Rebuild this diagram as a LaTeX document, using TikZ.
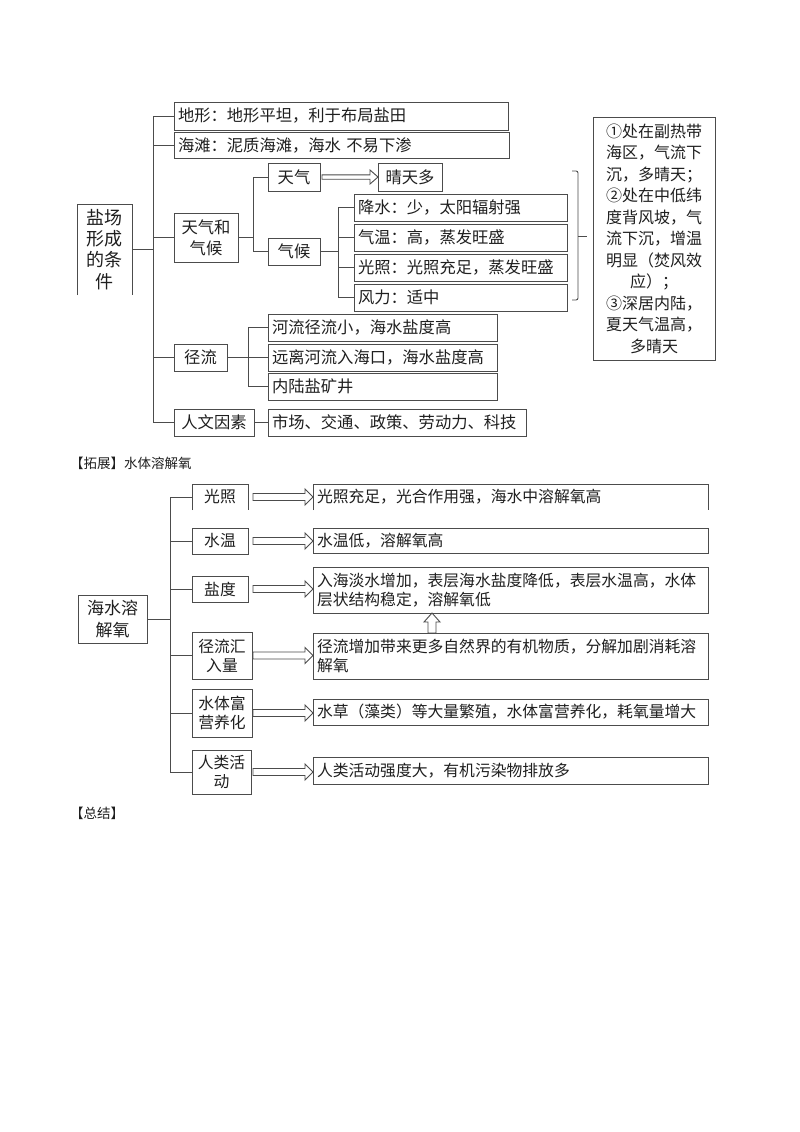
\documentclass[tikz,border=0pt]{standalone}
\usepackage{fontspec}
\setmainfont{Noto Sans CJK SC}
\usetikzlibrary{calc}
\tikzset{
  ln/.style={draw=black!70, line width=0.9pt},
  bx/.style={ln, anchor=north west, inner ysep=0pt, inner xsep=4pt, outer sep=0pt, text=black!88, font=\fontsize{16.3}{21}\selectfont},
  lb/.style={bx, align=left},
  cb/.style={bx, align=center},
  nob/.style={draw=none},
  bt/.style={font=\fontsize{15.8}{19}\selectfont},
  note/.style={anchor=west, inner sep=0pt, text=black!88, font=\fontsize{13.5}{16}\selectfont},
}
\newcommand\bxn[7][]{%
  \pgfmathsetmacro\bxw{#5-#3}\pgfmathsetmacro\bxh{#6-#4}\pgfmathsetmacro\bxt{#5-#3-8}%
  \node[#1, minimum width=\bxw pt, minimum height=\bxh pt, text width=\bxt pt] (#2) at (#3,#4) {#7};}
\newcommand\openb[1]{\draw[ln] (#1.south west) -- (#1.north west) -- (#1.north east) -- (#1.south east);}
\newcommand\harr[4]{%
  \draw[ln, line join=miter] let \p1=(#1), \p2=(#2) in
   (\x1,\y1+#3pt) -- (\x2-8pt,\y1+#3pt) -- (\x2-8pt,\y1+#4pt) -- (\x2,\y1) -- (\x2-8pt,\y1-#4pt) -- (\x2-8pt,\y1-#3pt) -- (\x1,\y1-#3pt) -- cycle;}
\newcommand\varr[4]{%
  \draw[ln, line join=miter] let \p1=(#1), \p2=(#2) in
   (\x1-#3pt,\y1) -- (\x1-#3pt,\y2-9pt) -- (\x1-#4pt,\y2-9pt) -- (\x1,\y2) -- (\x1+#4pt,\y2-9pt) -- (\x1+#3pt,\y2-9pt) -- (\x1+#3pt,\y1) -- cycle;}
\begin{document}
\begin{tikzpicture}[x=1pt,y=-1pt]
\useasboundingbox (0,0) rectangle (800,1132);
\fill[white] (0,0) rectangle (800,1132);
% ---------- top section ----------
\bxn[cb, nob, font=\fontsize{18}{21.3}\selectfont]{main}{77}{204}{132}{295}{盐场\\形成\\的条\\件}
\openb{main}
\bxn[lb]{dixing}{174}{102}{508}{130}{地形：地形平坦，利于布局盐田}
\bxn[lb]{haitan}{174}{132}{509}{158}{海滩：泥质海滩，海水 不易下渗}
\bxn[cb]{tqhq}{174}{213}{238}{262}{天气和\\气候}
\bxn[cb]{jingliu}{174}{344}{227}{371}{径流}
\bxn[cb]{renwen}{174}{409}{254}{436}{人文因素}
\bxn[cb]{tianqi}{268}{163}{320}{191}{天气}
\bxn[cb]{qihou}{268}{238}{320}{265}{气候}
\bxn[cb]{qingtian}{378}{163}{442}{191}{晴天多}
\bxn[lb]{jsh}{354}{194}{567}{221}{降水：少，太阳辐射强}
\bxn[lb]{qw}{354}{224}{567}{251}{气温：高，蒸发旺盛}
\bxn[lb]{gzh}{354}{254}{567}{281}{光照：光照充足，蒸发旺盛}
\bxn[lb]{fl}{354}{284}{567}{311}{风力：适中}
\bxn[lb]{hl1}{268}{314}{497}{341}{河流径流小，海水盐度高}
\bxn[lb]{hl2}{268}{344}{497}{371}{远离河流入海口，海水盐度高}
\bxn[lb]{hl3}{268}{373}{497}{400}{内陆盐矿井}
\bxn[lb]{rw}{268}{409}{526}{436}{市场、交通、政策、劳动力、科技}
\bxn[cb, font=\fontsize{16}{21.5}\selectfont]{rbox}{593}{117}{715}{360}{①处在副热带\\海区，气流下\\沉，多晴天；\\②处在中低纬\\度背风坡，气\\流下沉，增温\\明显（焚风效\\应）；\\③深居内陆，\\夏天气温高，\\多晴天}
% connectors
\coordinate (tr1) at (153,0);
\coordinate (tr2) at (253,0);
\coordinate (tr3) at (338,0);
\coordinate (tr4) at (248,0);
\draw[ln] (main.east) -- (main.east -| tr1);
\draw[ln] (dixing.west) -- (dixing.west -| tr1) |- (renwen.west);
\foreach \n in {haitan,tqhq,jingliu} \draw[ln] (\n.west) -- (\n.west -| tr1);
\draw[ln] (tqhq.east) -- (tqhq.east -| tr2);
\draw[ln] (tianqi.west) -- (tianqi.west -| tr2) |- (qihou.west);
\harr{$(tianqi.east)+(2,0)$}{qingtian.west}{2.2}{7}
\draw[ln] (qihou.east) -- (qihou.east -| tr3);
\draw[ln] (jsh.west) -- (jsh.west -| tr3) |- (fl.west);
\foreach \n in {qw,gzh} \draw[ln] (\n.west) -- (\n.west -| tr3);
\draw[ln] (jingliu.east) -- (jingliu.east -| tr4);
\draw[ln] (hl1.west) -- (hl1.west -| tr4) |- (hl3.west);
\draw[ln] (hl2.west) -- (hl2.west -| tr4);
\draw[ln] (renwen.east) -- (rw.west);
% bracket
\coordinate (brk) at (578,236);
\draw[ln, rounded corners=2pt] (572,171) -- (578,171) -- (578,300) -- (572,300);
\draw[ln] (brk) -- ++(9,0);
% ---------- notes ----------
\node[note] (tz) at (70,463) {【拓展】水体溶解氧};
\node[note] (zj) at (70,813) {【总结】};
% ---------- bottom section ----------
\bxn[cb, font=\fontsize{17}{21.5}\selectfont]{hs}{78}{595}{147}{643}{海水溶\\解氧}
\bxn[cb, bt, nob]{b1}{192}{484}{248}{510}{光照}
\openb{b1}
\bxn[cb, bt]{b2}{192}{528}{248}{554}{水温}
\bxn[cb, bt]{b3}{192}{576}{248}{602}{盐度}
\bxn[cb, bt]{b4}{192}{632}{252}{679}{径流汇\\入量}
\bxn[cb, bt]{b5}{192}{689}{252}{737}{水体富\\营养化}
\bxn[cb, bt]{b6}{192}{750}{251}{794}{人类活\\动}
\bxn[lb, bt, nob]{t1}{313}{484}{708}{510}{光照充足，光合作用强，海水中溶解氧高}
\openb{t1}
\bxn[lb, bt]{t2}{313}{528}{708}{553}{水温低，溶解氧高}
\bxn[lb, bt]{t3}{313}{567}{708}{613}{入海淡水增加，表层海水盐度降低，表层水温高，水体\\层状结构稳定，溶解氧低}
\bxn[lb, bt]{t4}{313}{633}{708}{679}{径流增加带来更多自然界的有机物质，分解加剧消耗溶\\解氧}
\bxn[lb, bt]{t5}{313}{699}{708}{725}{水草（藻类）等大量繁殖，水体富营养化，耗氧量增大}
\bxn[lb, bt]{t6}{313}{757}{708}{784}{人类活动强度大，有机污染物排放多}
\coordinate (tr5) at (170,0);
\coordinate (ax) at (253,0);
\coordinate (ux) at (432,0);
\draw[ln] (hs.east) -- (hs.east -| tr5);
\draw[ln] (b1.west) -- (b1.west -| tr5) |- (b6.west);
\foreach \n in {b2,b3,b4,b5} \draw[ln] (\n.west) -- (\n.west -| tr5);
\harr{b1.east -| ax}{t1.west}{3.5}{8}
\harr{b2.east -| ax}{t2.west}{3.5}{8}
\harr{b3.east -| ax}{t3.west}{3.5}{8}
\harr{b4.east -| ax}{t4.west}{3.5}{8}
\harr{b5.east -| ax}{t5.west}{3.5}{8}
\harr{b6.east -| ax}{t6.west}{3.5}{8}
\varr{t4.north -| ux}{t3.south -| ux}{4}{8}
\end{tikzpicture}
\end{document}
